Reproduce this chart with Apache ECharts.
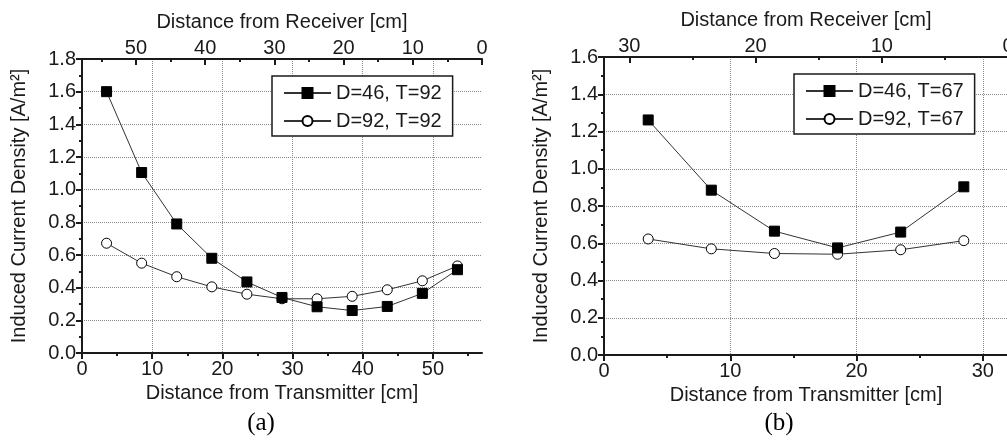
<!DOCTYPE html>
<html>
<head>
<meta charset="utf-8">
<script src="https://cdn.jsdelivr.net/npm/echarts@6/dist/echarts.min.js"></script>
<style>html,body{margin:0;padding:0;background:#fff;}#c{width:1007px;height:443px;}</style>
</head>
<body>
<div id="c"></div>
<script>
// ---- data ----
const xA = [3.5, 8.5, 13.5, 18.5, 23.5, 28.5, 33.5, 38.5, 43.5, 48.5, 53.5];
const a46 = [1.60, 1.105, 0.79, 0.58, 0.435, 0.34, 0.283, 0.26, 0.285, 0.365, 0.51];
const a92 = [0.672, 0.55, 0.467, 0.405, 0.36, 0.332, 0.332, 0.347, 0.387, 0.442, 0.533];
const xB = [3.5, 8.5, 13.5, 18.5, 23.5, 28.5];
const b46 = [1.262, 0.885, 0.665, 0.575, 0.66, 0.903];
const b92 = [0.623, 0.57, 0.545, 0.541, 0.565, 0.614];
const namesA = ['D=46, T=92', 'D=92, T=92'];
const namesB = ['D=46, T=67', 'D=92, T=67'];
const majorA = [0, 10, 20, 30, 40, 50];
const minorA = [5, 15, 25, 35, 45, 55];
const majorB = [0, 10, 20, 30];
const minorB = [5, 15, 25];
const xTitle = 'Distance from Transmitter [cm]';
const topTitle = 'Distance from Receiver [cm]';
const yTitle = 'Induced Current Density [A/m²]';
const panelLabels = ['(a)', '(b)'];

const FONT = "'Liberation Sans', Arial, sans-serif";
const SERIF = "'Liberation Serif', 'Times New Roman', serif";
const INK = '#1a1a1a';
const zip = (xs, ys) => xs.map((x, i) => [x, ys[i]]);

function xAxes(gridIndex, max, topMax, major, minor) {
  const lineStyle = { color: INK, width: 2 };
  const base = { type: 'value', gridIndex, min: 0 };
  return [
    Object.assign({}, base, {
      max, position: 'bottom', name: xTitle, nameLocation: 'middle', nameGap: 25,
      nameTextStyle: { fontFamily: FONT, fontSize: 20, color: INK },
      axisLine: { show: true, lineStyle },
      axisTick: { show: true, length: 6, lineStyle, customValues: major },
      axisLabel: { show: true, customValues: major, margin: 6, fontFamily: FONT, fontSize: 20, color: INK },
      splitLine: { show: true, lineStyle: { type: 'dotted', color: '#8a8a8a', width: 1 } },
      minorTick: { show: false }
    }),
    Object.assign({}, base, {
      max, position: 'bottom',
      axisLine: { show: false },
      axisTick: { show: true, length: 3, lineStyle, customValues: minor },
      axisLabel: { show: false }, splitLine: { show: false }
    }),
    Object.assign({}, base, {
      max: topMax, position: 'top', inverse: true, name: topTitle, nameLocation: 'middle', nameGap: 27,
      nameTextStyle: { fontFamily: FONT, fontSize: 20, color: INK },
      axisLine: { show: true, lineStyle },
      axisTick: { show: true, inside: true, length: 6, lineStyle, customValues: major },
      axisLabel: { show: true, customValues: major, margin: 1, fontFamily: FONT, fontSize: 20, color: INK },
      splitLine: { show: false }
    }),
    Object.assign({}, base, {
      max: topMax, position: 'top', inverse: true,
      axisLine: { show: false },
      axisTick: { show: true, inside: true, length: 3, lineStyle, customValues: minor },
      axisLabel: { show: false }, splitLine: { show: false }
    })
  ];
}

function yAxes(gridIndex, max) {
  const lineStyle = { color: INK, width: 2 };
  return [
    {
      type: 'value', gridIndex, min: 0, max, interval: 0.2, position: 'left',
      name: yTitle, nameLocation: 'middle', nameGap: 53,
      nameTextStyle: { fontFamily: FONT, fontSize: 20, color: INK },
      axisLine: { show: true, lineStyle },
      axisTick: { show: true, length: 6, lineStyle },
      minorTick: { show: true, splitNumber: 2, length: 3, lineStyle },
      axisLabel: { show: true, margin: 6, fontFamily: FONT, fontSize: 20, color: INK, formatter: v => v.toFixed(1) },
      splitLine: { show: true, lineStyle: { type: 'dotted', color: '#8a8a8a', width: 1 } }
    },
    {
      type: 'value', gridIndex, min: 0, max, interval: 0.2, position: 'right',
      axisLine: { show: true, lineStyle },
      axisTick: { show: true, inside: true, length: 6, lineStyle },
      minorTick: { show: true, splitNumber: 2, length: 3, lineStyle },
      axisLabel: { show: false }, splitLine: { show: false }
    }
  ];
}

function series(name, xs, ys, xi, yi, filled) {
  return {
    name, type: 'line', xAxisIndex: xi, yAxisIndex: yi, data: zip(xs, ys),
    symbol: filled ? 'rect' : 'circle', symbolSize: 10,
    itemStyle: filled ? { color: '#000', borderColor: '#000', borderWidth: 1 } : { color: '#fff', borderColor: '#000', borderWidth: 1 },
    lineStyle: { color: '#333', width: 1 },
    z: filled ? 3 : 2, animation: false
  };
}

function legend(left, top, data) {
  return {
    left, top, orient: 'vertical', data,
    itemWidth: 47, itemHeight: 12.5, itemGap: 8,
    padding: [7, 11, 5, 11],
    borderColor: INK, borderWidth: 1.5, backgroundColor: '#fff',
    textStyle: { fontFamily: FONT, fontSize: 20, color: INK }
  };
}

const chart = echarts.init(document.getElementById('c'), null, { renderer: 'canvas' });
chart.setOption({
  animation: false,
  backgroundColor: '#fff',
  grid: [
    { left: 82, top: 59, width: 400, height: 294, containLabel: false, outerBoundsMode: 'none' },
    { left: 604, top: 57, width: 404, height: 298, containLabel: false, outerBoundsMode: 'none' }
  ],
  xAxis: [].concat(xAxes(0, 57, 57.8, majorA, minorA), xAxes(1, 32, 32, majorB, minorB)),
  yAxis: [].concat(yAxes(0, 1.8), yAxes(1, 1.6)),
  legend: [legend(272, 76, namesA), legend(794, 74, namesB)],
  series: [
    series(namesA[0], xA, a46, 0, 0, true),
    series(namesA[1], xA, a92, 0, 0, false),
    series(namesB[0], xB, b46, 4, 2, true),
    series(namesB[1], xB, b92, 4, 2, false)
  ],
  graphic: [
    { type: 'text', style: { text: panelLabels[0], x: 261, y: 423, fontFamily: SERIF, fontSize: 25, fill: '#000', align: 'center', verticalAlign: 'middle' } },
    { type: 'text', style: { text: panelLabels[1], x: 779, y: 423, fontFamily: SERIF, fontSize: 25, fill: '#000', align: 'center', verticalAlign: 'middle' } }
  ]
});
</script>
</body>
</html>
